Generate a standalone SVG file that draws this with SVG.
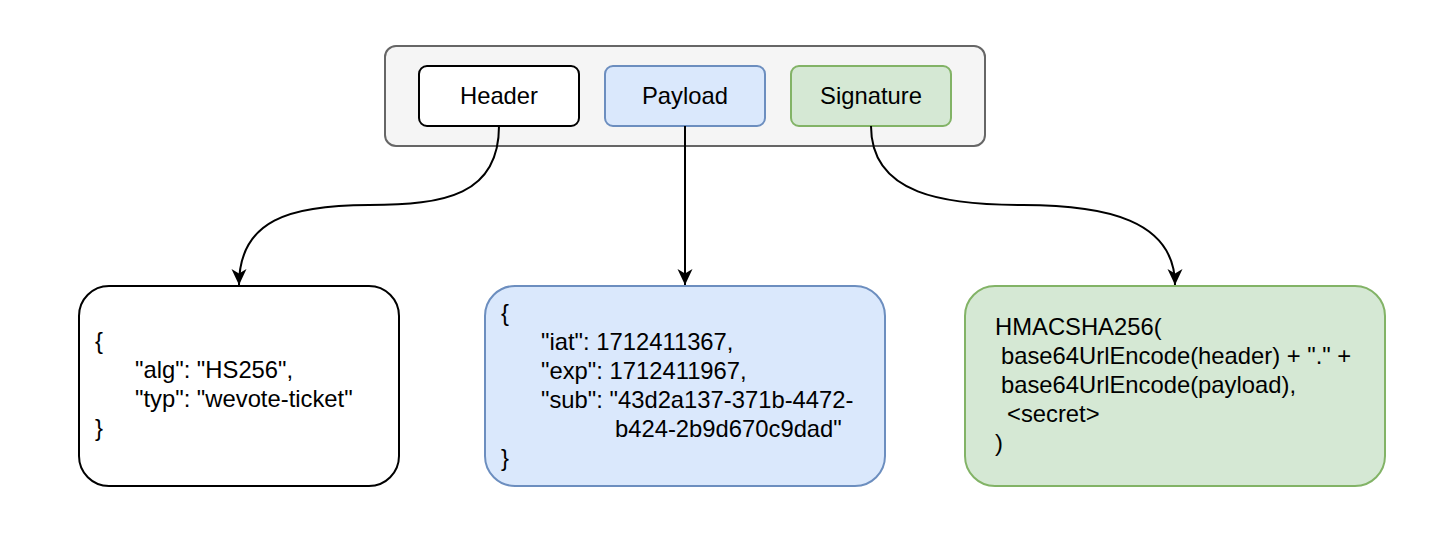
<svg xmlns="http://www.w3.org/2000/svg" width="1438" height="548" viewBox="0 0 1438 548">
<style>
text{font-family:"Liberation Sans",Arial,sans-serif;font-size:23.8px;fill:#000}
.c{text-anchor:middle}
.edge{fill:none;stroke:#000;stroke-width:2}
</style>
<defs>
<marker id="arr" markerUnits="userSpaceOnUse" markerWidth="18" markerHeight="18" viewBox="0 0 18 18" refX="16" refY="9" orient="auto">
<path d="M0,1.5 L16,9 L0,16.5 L4.5,9 z" fill="#000"/>
</marker>
</defs>
<rect width="1438" height="548" fill="#fff"/>
<g id="container">
<rect x="385" y="46" width="600" height="100" rx="11" fill="#f5f5f5" stroke="#666" stroke-width="2"/>
</g>
<g id="header">
<rect x="419" y="66" width="160" height="60" rx="8" fill="#fff" stroke="#000" stroke-width="2"/>
<text class="c" x="499" y="103.5">Header</text>
</g>
<g id="payload">
<rect x="605" y="66" width="160" height="60" rx="8" fill="#dae8fc" stroke="#6c8ebf" stroke-width="2"/>
<text class="c" x="685" y="103.5">Payload</text>
</g>
<g id="signature">
<rect x="791" y="66" width="160" height="60" rx="8" fill="#d5e8d4" stroke="#82b366" stroke-width="2"/>
<text class="c" x="871" y="103.5">Signature</text>
</g>
<g id="connectors">
<path class="edge" d="M499 126 C499 195, 445 205, 369 205 C290 205, 239 220, 239 285" marker-end="url(#arr)"/>
<path class="edge" d="M685 126 L685 285" marker-end="url(#arr)"/>
<path class="edge" d="M871 126 C871 195, 945 205, 1023 205 C1105 205, 1175 220, 1175 285" marker-end="url(#arr)"/>
</g>
<g id="header-json">
<rect x="79" y="286" width="320" height="200" rx="30" fill="#fff" stroke="#000" stroke-width="2"/>
<text x="95" y="349">{</text>
<text x="135" y="378">"alg": "HS256",</text>
<text x="135" y="407">"typ": "wevote-ticket"</text>
<text x="95" y="436">}</text>
</g>
<g id="payload-json">
<rect x="485" y="286" width="400" height="200" rx="30" fill="#dae8fc" stroke="#6c8ebf" stroke-width="2"/>
<text x="501" y="321">{</text>
<text x="541" y="350">"iat": 1712411367,</text>
<text x="541" y="379">"exp": 1712411967,</text>
<text x="541" y="408">"sub": "43d2a137-371b-4472-</text>
<text x="615" y="437">b424-2b9d670c9dad"</text>
<text x="501" y="466">}</text>
</g>
<g id="signature-formula">
<rect x="965" y="286" width="420" height="200" rx="30" fill="#d5e8d4" stroke="#82b366" stroke-width="2"/>
<text x="995" y="335">HMACSHA256(</text>
<text x="1001" y="364">base64UrlEncode(header) + "." +</text>
<text x="1001" y="393">base64UrlEncode(payload),</text>
<text x="1007" y="422">&lt;secret&gt;</text>
<text x="995" y="451">)</text>
</g>
</svg>
